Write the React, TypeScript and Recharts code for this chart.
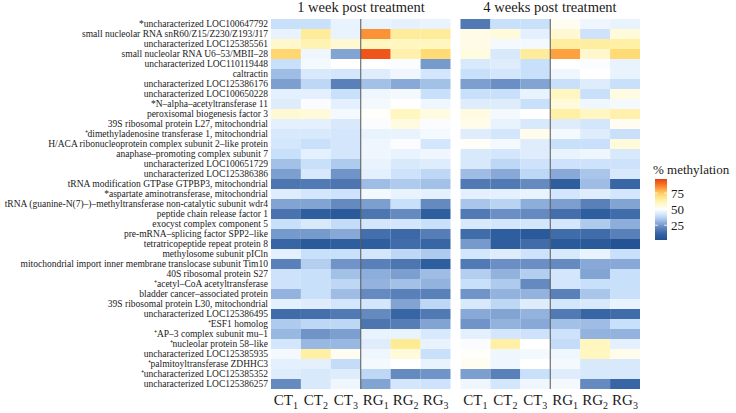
import { BarChart, Bar, XAxis, YAxis, Cell, ReferenceLine } from 'recharts';

const rowLabels = [
  '*uncharacterized LOC100647792',
  'small nucleolar RNA snR60/Z15/Z230/Z193/J17',
  'uncharacterized LOC125385561',
  'small nucleolar RNA U6–53/MBII–28',
  'uncharacterized LOC110119448',
  'caltractin',
  'uncharacterized LOC125386176',
  'uncharacterized LOC100650228',
  '*N–alpha–acetyltransferase 11',
  'peroxisomal biogenesis factor 3',
  '39S ribosomal protein L27, mitochondrial',
  '⁺dimethyladenosine transferase 1, mitochondrial',
  'H/ACA ribonucleoprotein complex subunit 2–like protein',
  'anaphase–promoting complex subunit 7',
  'uncharacterized LOC100651729',
  'uncharacterized LOC125386386',
  'tRNA modification GTPase GTPBP3, mitochondrial',
  '*aspartate aminotransferase, mitochondrial',
  'tRNA (guanine-N(7)–)–methyltransferase non-catalytic subunit wdr4',
  'peptide chain release factor 1',
  'exocyst complex component 5',
  'pre-mRNA–splicing factor SPP2–like',
  'tetratricopeptide repeat protein 8',
  'methylosome subunit pICln',
  'mitochondrial import inner membrane translocase subunit Tim10',
  '40S ribosomal protein S27',
  '⁺acetyl–CoA acetyltransferase',
  'bladder cancer–associated protein',
  '39S ribosomal protein L30, mitochondrial',
  'uncharacterized LOC125386495',
  '⁺ESF1 homolog',
  '⁺AP–3 complex subunit mu–1',
  '⁺nucleolar protein 58–like',
  'uncharacterized LOC125385935',
  '⁺palmitoyltransferase ZDHHC3',
  '⁺uncharacterized LOC125385352',
  'uncharacterized LOC125386257',
];

const sampleGroups = ['CT', 'CT', 'CT', 'RG', 'RG', 'RG'];
const sampleSubs = ['1', '2', '3', '1', '2', '3'];
const panelTitles = ['1 week post treatment', '4 weeks post treatment'];
const legendTicks = [75, 50, 25];

// % methylation, one array per sample column, rows in label order
const w1CT1 = [40, 46, 58, 73, 40, 32, 26, 45, 44, 57, 45, 43, 42, 40, 33, 26, 17, 44, 27, 16, 40, 25, 12, 45, 20, 41, 41, 30, 45, 14, 35, 31, 42, 48, 45, 44, 22];
const w1CT2 = [40, 66, 62, 47, 48, 43, 38, 45, 49, 56, 45, 43, 40, 45, 40, 43, 18, 42, 27, 10, 43, 25, 8, 40, 36, 40, 40, 40, 44, 15, 38, 24, 31, 64, 45, 43, 43];
const w1CT3 = [46, 46, 57, 27, 50, 42, 20, 40, 45, 48, 43, 42, 42, 42, 35, 24, 17, 41, 22, 8, 39, 28, 10, 40, 24, 33, 38, 32, 42, 18, 38, 26, 31, 52, 39, 44, 47];
const w1RG1 = [46, 84, 60, 93, 50, 44, 33, 47, 48, 51, 49, 46, 47, 47, 46, 45, 32, 48, 26, 17, 42, 15, 10, 42, 20, 29, 30, 22, 42, 22, 17, 46, 44, 47, 48, 38, 27];
const w1RG2 = [45, 66, 60, 63, 49, 47, 28, 48, 50, 60, 55, 46, 49, 46, 43, 41, 35, 46, 40, 22, 42, 13, 14, 38, 17, 26, 33, 20, 27, 12, 19, 46, 67, 56, 50, 22, 42];
const w1RG3 = [46, 66, 60, 72, 25, 42, 33, 40, 47, 55, 49, 48, 42, 47, 44, 38, 33, 45, 22, 10, 40, 19, 12, 35, 10, 32, 30, 20, 38, 18, 27, 43, 46, 40, 46, 24, 41];
const w4CT1 = [18, 54, 54, 55, 43, 40, 26, 40, 44, 55, 53, 44, 51, 43, 43, 32, 18, 45, 34, 18, 43, 14, 25, 42, 18, 36, 40, 24, 43, 28, 24, 45, 49, 51, 52, 26, 47];
const w4CT2 = [40, 56, 48, 43, 44, 42, 23, 40, 44, 48, 46, 42, 48, 42, 38, 28, 18, 45, 37, 23, 42, 10, 10, 44, 23, 30, 35, 30, 38, 27, 30, 42, 64, 47, 47, 20, 42];
const w4CT3 = [40, 45, 48, 66, 40, 40, 27, 46, 40, 50, 43, 53, 44, 44, 41, 38, 22, 46, 29, 22, 42, 8, 14, 41, 23, 36, 22, 30, 44, 30, 28, 41, 50, 48, 50, 40, 47];
const w4RG1 = [52, 57, 65, 82, 50, 47, 40, 60, 56, 64, 44, 48, 40, 46, 41, 28, 10, 42, 26, 15, 42, 14, 8, 43, 22, 42, 42, 20, 42, 18, 33, 41, 39, 47, 48, 44, 48];
const w4RG2 = [47, 41, 65, 58, 49, 50, 44, 40, 47, 60, 42, 44, 40, 47, 41, 34, 32, 44, 20, 10, 35, 14, 8, 46, 28, 27, 40, 34, 43, 12, 32, 30, 60, 60, 43, 43, 22];
const w4RG3 = [46, 56, 64, 72, 46, 46, 40, 55, 48, 63, 52, 40, 56, 43, 41, 43, 12, 42, 27, 14, 29, 20, 4, 40, 28, 40, 40, 40, 46, 14, 40, 30, 45, 53, 43, 43, 12];

const week1 = [w1CT1, w1CT2, w1CT3, w1RG1, w1RG2, w1RG3];
const week4 = [w4CT1, w4CT2, w4CT3, w4RG1, w4RG2, w4RG3];

const GAP = 1 / 3;
const FONT = '"Liberation Serif", "Times New Roman", serif';

const colorStops: [number, string][] = [
  [0, '#1d4a8c'],
  [10, '#2f5e9f'],
  [20, '#5a80b9'],
  [30, '#93b3de'],
  [40, '#c9e0fa'],
  [50, '#ffffff'],
  [60, '#fff6c0'],
  [70, '#ffe680'],
  [80, '#ffb04a'],
  [90, '#f5651a'],
  [100, '#e0301c'],
];

function hexToRgb(h: string) {
  return [1, 3, 5].map((i) => parseInt(h.slice(i, i + 2), 16));
}

function heat(v: number) {
  for (let i = 1; i < colorStops.length; i++) {
    const [v1, c1] = colorStops[i];
    const [v0, c0] = colorStops[i - 1];
    if (v <= v1) {
      const t = Math.max(0, (v - v0) / (v1 - v0));
      const a = hexToRgb(c0);
      const b = hexToRgb(c1);
      const m = a.map((x, k) => Math.round(x + (b[k] - x) * t));
      return `rgb(${m[0]},${m[1]},${m[2]})`;
    }
  }
  return colorStops[colorStops.length - 1][1];
}

// every tile is one unit wide; the colour carries the value
const tableData = rowLabels.map((label) => {
  const row: Record<string, number | string> = { label, gap: GAP };
  week1.forEach((_, i) => (row['w1_' + i] = 1));
  week4.forEach((_, i) => (row['w4_' + i] = 1));
  return row;
});

const xTicks = [
  ...week1.map((_, i) => i + 0.5),
  ...week4.map((_, i) => 6 + GAP + i + 0.5),
];

const ColumnTick = (props: any) => {
  const { x, y, index } = props;
  const k = index % 6;
  return (
    <text x={x} y={y + 16} textAnchor="middle" fontFamily={FONT} fontSize={15} fill="#1a1a1a">
      <tspan>{sampleGroups[k]}</tspan>
      <tspan fontSize={10} dy={4}>{sampleSubs[k]}</tspan>
    </text>
  );
};

// plain one-line tick, no wrapping
const RowTick = (props: any) => {
  const { x, y, payload } = props;
  return (
    <text x={x} y={y} dy={3.4} textAnchor="end" fontFamily={FONT} fontSize={9.5} fill="#1a1a1a">
      {payload.value}
    </text>
  );
};

// legend bar: value range shown and its pixel span
const legendMin = 2;
const legendMax = 97;
const barTop = 179;
const barBottom = 240;
const legendY = (v: number) => barBottom - ((v - legendMin) / (legendMax - legendMin)) * (barBottom - barTop);
const legendStops = [0, 0.1, 0.2, 0.3, 0.4, 0.5, 0.6, 0.7, 0.8, 0.9, 1];

export default function App() {
  return (
    <div style={{ position: 'absolute', left: 0, top: 0, width: 736, height: 413, background: '#fff' }}>
      <BarChart
        width={736}
        height={413}
        data={tableData}
        layout="vertical"
        barCategoryGap={0}
        barGap={0}
        margin={{ top: 19, right: 96, bottom: 0, left: 0 }}
      >
        <XAxis
          type="number"
          domain={[0, 12 + GAP]}
          ticks={xTicks}
          interval={0}
          axisLine={false}
          tickLine={false}
          tickSize={0}
          tickMargin={0}
          height={24}
          tick={<ColumnTick />}
        />
        <YAxis
          type="category"
          dataKey="label"
          width={271}
          interval={0}
          axisLine={false}
          tickLine={false}
          tickSize={0}
          tickMargin={3}
          tick={<RowTick />}
        />
        {week1.map((col, i) => (
          <Bar key={'w1_' + i} dataKey={'w1_' + i} stackId="h" isAnimationActive={false}>
            {col.map((v, r) => (
              <Cell key={r} fill={heat(v)} />
            ))}
          </Bar>
        ))}
        <Bar dataKey="gap" stackId="h" fill="transparent" isAnimationActive={false} />
        {week4.map((col, i) => (
          <Bar key={'w4_' + i} dataKey={'w4_' + i} stackId="h" isAnimationActive={false}>
            {col.map((v, r) => (
              <Cell key={r} fill={heat(v)} />
            ))}
          </Bar>
        ))}
        <ReferenceLine x={3} stroke="#555" strokeWidth={1} />
        <ReferenceLine x={9 + GAP} stroke="#555" strokeWidth={1} />
      </BarChart>
      <svg width={736} height={413} style={{ position: 'absolute', left: 0, top: 0, pointerEvents: 'none' }}>
        <defs>
          <linearGradient id="methGrad" x1="0" y1="1" x2="0" y2="0">
            {legendStops.map((f) => (
              <stop key={f} offset={f} stopColor={heat(legendMin + f * (legendMax - legendMin))} />
            ))}
          </linearGradient>
        </defs>
        <text x={361} y={12} textAnchor="middle" fontFamily={FONT} fontSize={14.5} fill="#1a1a1a">
          {panelTitles[0]}
        </text>
        <text x={550} y={12} textAnchor="middle" fontFamily={FONT} fontSize={14.5} fill="#1a1a1a">
          {panelTitles[1]}
        </text>
        <text x={653} y={174} fontFamily={FONT} fontSize={13} fill="#1a1a1a">
          % methylation
        </text>
        <rect x={655} y={barTop} width={12} height={barBottom - barTop} fill="url(#methGrad)" />
        {legendTicks.map((t) => (
          <g key={t}>
            <line x1={655} x2={658} y1={legendY(t)} y2={legendY(t)} stroke="#fff" strokeWidth={0.8} />
            <line x1={664} x2={667} y1={legendY(t)} y2={legendY(t)} stroke="#fff" strokeWidth={0.8} />
            <text x={671} y={legendY(t) + 4.5} fontFamily={FONT} fontSize={13} fill="#1a1a1a">
              {t}
            </text>
          </g>
        ))}
      </svg>
    </div>
  );
}
